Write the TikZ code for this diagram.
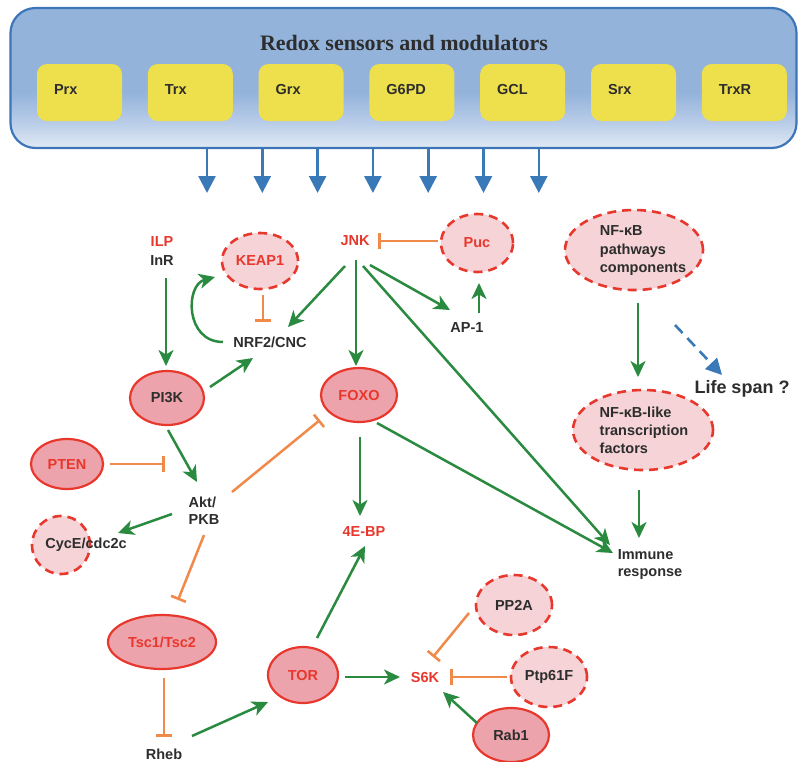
\documentclass[tikz,border=0pt]{standalone}
\usepackage{fontspec}
\setmainfont{Liberation Sans}
\newfontfamily\titlefont{Liberation Serif}
\usetikzlibrary{arrows.meta,shapes.geometric,calc}
\definecolor{redA}{HTML}{E8382D}
\definecolor{txt}{HTML}{2D2D2D}
\definecolor{grn}{HTML}{2A8A3F}
\definecolor{org}{HTML}{F08A4B}
\definecolor{pinkS}{HTML}{ECA3AB}
\definecolor{pinkD}{HTML}{F5D3D6}
\definecolor{yel}{HTML}{EEDF4C}
\definecolor{bluA}{HTML}{3A79B8}
\definecolor{pbord}{HTML}{3D75B8}
\definecolor{pbot}{HTML}{E1EAF5}
\definecolor{pmid}{HTML}{B9CDE8}
\definecolor{ptop}{HTML}{93B3DB}
\pgfdeclareverticalshading{panelshade}{100bp}{color(0bp)=(pbot); color(25bp)=(pbot); color(34bp)=(pmid); color(45bp)=(ptop); color(100bp)=(ptop)}
\tikzset{
  lbl/.style={font=\bfseries\fontsize{14.5}{17}\selectfont, text=txt, inner sep=1pt, align=left},
  rlbl/.style={lbl, text=redA},
  sol/.style={ellipse, draw=redA, line width=2.2pt, fill=pinkS, inner sep=0pt},
  dsh/.style={ellipse, draw=redA, line width=2.6pt, dash pattern=on 9pt off 6pt, fill=pinkD, inner sep=0pt},
  ybox/.style={rounded corners=10pt, fill=yel, minimum width=85, minimum height=57, inner sep=0pt},
  act/.style={draw=grn, line width=2.5pt, -{Stealth[length=16pt,width=15pt,inset=4.5pt]}},
  inh/.style={draw=org, line width=2.5pt, -{Rectangle[length=2.6pt,width=16pt,sep=0pt]}},
  bluarr/.style={draw=bluA, line width=2.6pt, -{Triangle[length=17pt,width=17pt]}},
  bludash/.style={draw=bluA, line width=2.6pt, dash pattern=on 11pt off 7pt, -{Triangle[length=16pt,width=16pt]}}
}
\begin{document}
\begin{tikzpicture}[x=1pt,y=-1pt]
\useasboundingbox (0,0) rectangle (799,761);
% panel
\node[draw=pbord, line width=2.2pt, rounded corners=25pt, shading=panelshade,
      minimum width=786, minimum height=140, inner sep=0pt] (panel) at (403.5,78) {};
\node[font=\titlefont\bfseries\fontsize{22}{26}\selectfont, text=txt] (title) at (404,43) {Redox sensors and modulators};
\foreach \i/\t in {1/Prx,2/Trx,3/Grx,4/G6PD,5/GCL,6/Srx,7/TrxR}{
  \node[ybox] (b\i) at ({79.5+110.8*(\i-1)},92.5) {};
  \node[lbl, anchor=west] (bt\i) at ([shift={(16,-3)}]b\i.west) {\t};
}
\foreach \i in {0,...,6}{
  \coordinate (t\i) at ({207+55.3*\i},193);
  \draw[bluarr] (panel.south -| t\i) -- (t\i);
}
% nodes
\node[rlbl] (ilp) at (162,242) {ILP};
\node[lbl] (inr) at (162,261) {InR};
\node[dsh, minimum width=76, minimum height=56, label={[rlbl]center:KEAP1}] (keap) at (260,261) {};
\node[lbl] (nrf) at (270,342) {NRF2/CNC};
\node[rlbl] (jnk) at (355,241) {JNK};
\node[dsh, minimum width=72, minimum height=58, label={[rlbl]center:Puc}] (puc) at (477,243) {};
\node[lbl] (ap1) at (467,328) {AP-1};
\node[dsh, minimum width=138, minimum height=80] (nfkb) at (634,250) {};
\node[lbl, font=\bfseries\fontsize{14.5}{18.5}\selectfont] (nfkbt) at (643,251) {NF-κB\\pathways\\components};
\node[lbl, font=\bfseries\fontsize{18}{21}\selectfont] (life) at (742,389) {Life span ?};
\node[dsh, minimum width=140, minimum height=80] (nfkbl) at (643,430) {};
\node[lbl, font=\bfseries\fontsize{14.5}{18}\selectfont] (nfkblt) at (644,430) {NF-κB-like\\transcription\\factors};
\node[lbl] (imm) at (650,565) {Immune\\response};
\node[sol, minimum width=76, minimum height=54, label={[rlbl]center:FOXO}] (foxo) at (359,395) {};
\node[rlbl] (e4bp) at (364,531) {4E-BP};
\node[sol, minimum width=74, minimum height=54, label={[lbl]center:PI3K}] (pi3k) at (167,398) {};
\node[sol, minimum width=72, minimum height=50, label={[rlbl]center:PTEN}] (pten) at (67,464) {};
\node[lbl] (akt) at (204,511) {Akt/\\PKB};
\node[dsh, circle, minimum size=58] (cyc) at (61,545) {};
\node[lbl] (cyct) at (86,545) {CycE/cdc2c};
\node[sol, minimum width=108, minimum height=54, label={[rlbl]center:Tsc1/Tsc2}] (tsc) at (162,642) {};
\node[lbl] (rheb) at (164,754) {Rheb};
\node[sol, minimum width=70, minimum height=56, label={[rlbl]center:TOR}] (tor) at (303,675) {};
\node[rlbl] (s6k) at (425,677) {S6K};
\node[dsh, minimum width=76, minimum height=60, label={[lbl]center:PP2A}] (pp2a) at (514,605) {};
\node[dsh, minimum width=76, minimum height=60, label={[lbl]center:Ptp61F}] (ptp) at (549,677) {};
\node[sol, minimum width=76, minimum height=54, label={[lbl]center:Rab1}] (rab) at (511,735) {};
% connectors
\draw[act] ([shift={(4,17)}]inr.center) -- ([shift={(-1,-32)}]pi3k.center);
\draw[act] ([shift={(-47,0)}]nrf.center) .. controls +(-38,0) and +(-30,8) .. ([shift={(-45,16)}]keap.center);
\draw[inh] ([shift={(3,34)}]keap.center) -- ([shift={(-7,-20)}]nrf.center);
\draw[inh] ([shift={(-39,-2)}]puc.center) -- ([shift={(23,0)}]jnk.center);
\draw[act] ([shift={(-10,25)}]jnk.center) -- ([shift={(18,-15)}]nrf.center);
\draw[act] ([shift={(1,19)}]jnk.center) -- ([shift={(-3,-29)}]foxo.center);
\draw[act] ([shift={(15,24)}]jnk.center) -- ([shift={(-17,-18)}]ap1.center);
\draw[act] ([shift={(8,25)}]jnk.center) -- ([shift={(-40,-20)}]imm.center);
\draw[act] ([shift={(12,-15)}]ap1.center) -- ([shift={(2,40)}]puc.center);
\draw[act] ([shift={(4,53)}]nfkb.center) -- ([shift={(-5,-53)}]nfkbl.center);
\draw[bludash] ([shift={(41,75)}]nfkb.center) -- ([shift={(-20,-14)}]life.center);
\draw[act] ([shift={(-4,60)}]nfkbl.center) -- ([shift={(-11,-27)}]imm.center);
\draw[act] ([shift={(1,42)}]foxo.center) -- ([shift={(-4,-15)}]e4bp.center);
\draw[act] ([shift={(18,28)}]foxo.center) -- ([shift={(-37,-12)}]imm.center);
\draw[act] ([shift={(43,-11)}]pi3k.center) -- ([shift={(-17,16)}]nrf.center);
\draw[act] ([shift={(1,32)}]pi3k.center) -- ([shift={(-7,-29)}]akt.center);
\draw[inh] ([shift={(43,0)}]pten.center) -- ([shift={(-39,-47)}]akt.center);
\draw[inh] ([shift={(28,-19)}]akt.center) -- ([shift={(-39,25)}]foxo.center);
\draw[act] ([shift={(-32,3)}]akt.center) -- ([shift={(32,-12)}]cyct.center);
\draw[inh] ([shift={(0,24)}]akt.center) -- ([shift={(16,-42)}]tsc.center);
\draw[inh] ([shift={(2,36)}]tsc.center) -- ([shift={(0,-17)}]rheb.center);
\draw[act] ([shift={(28,-18)}]rheb.center) -- ([shift={(-35,27)}]tor.center);
\draw[act] ([shift={(14,-37)}]tor.center) -- ([shift={(1,15)}]e4bp.center);
\draw[act] ([shift={(42,2)}]tor.center) -- ([shift={(-25,0)}]s6k.center);
\draw[inh] ([shift={(-45,8)}]pp2a.center) -- ([shift={(8,-20)}]s6k.center);
\draw[inh] ([shift={(-42,0)}]ptp.center) -- ([shift={(25,0)}]s6k.center);
\draw[act] ([shift={(-34,-12)}]rab.center) -- ([shift={(18,15)}]s6k.center);
\end{tikzpicture}
\end{document}
